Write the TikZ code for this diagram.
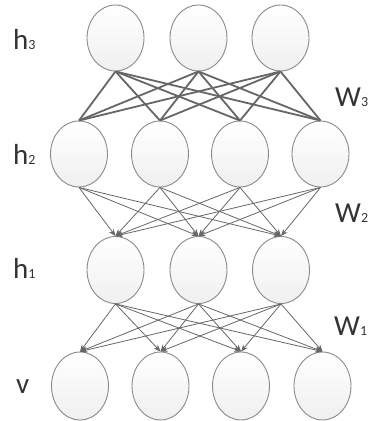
\documentclass[tikz,border=0pt]{standalone}
\usepackage{fontspec}
\setmainfont{Carlito}
\usetikzlibrary{shapes.geometric,arrows.meta}
\definecolor{edgegray}{HTML}{8A8A8A}
\definecolor{linegray}{HTML}{666666}
\definecolor{txtgray}{HTML}{333333}
\newcommand{\subsc}[1]{{\fontsize{14}{14}\selectfont #1}}
\tikzset{
  unit/.style={ellipse, draw=edgegray, line width=0.9pt, top color=white, bottom color=gray!12,
    minimum width=57pt, minimum height=66pt, inner sep=0pt},
  lab/.style={anchor=base west, inner sep=0pt, text=txtgray, font=\fontsize{29}{32}\selectfont},
  thick link/.style={draw=linegray, line width=1.8pt},
  arr link/.style={draw=linegray, line width=0.8pt, -{Stealth[length=7pt,width=5.5pt]}}
}
\begin{document}
\begin{tikzpicture}[x=1pt,y=-1pt]
\useasboundingbox (0,0) rectangle (368,421);
% layers
\foreach \i/\x in {1/115.5,2/198.5,3/280.5} \node[unit] (a\i) at (\x,38) {};
\foreach \i/\x in {1/79,2/160,3/240,4/320.5} \node[unit] (b\i) at (\x,154) {};
\foreach \i/\x in {1/115.5,2/198.5,3/281} \node[unit, minimum height=67pt] (c\i) at (\x,270) {};
\foreach \i/\x in {1/80,2/160.5,3/241,4/322.5} \node[unit, minimum height=68pt] (d\i) at (\x,386) {};
% connections
\foreach \i in {1,2,3} \foreach \j in {1,2,3,4}
  \draw[thick link] (a\i.south) -- (b\j.north);
\foreach \i in {1,2,3,4} \foreach \j in {1,2,3}
  \draw[arr link] (b\i.south) -- (c\j.north);
\foreach \i in {1,2,3} \foreach \j in {1,2,3,4}
  \draw[arr link] (c\i.south) -- (d\j.north);
% labels
\node[lab] (lh3) at (13,49) {h\subsc{3}};
\node[lab] (lh2) at (13,164) {h\subsc{2}};
\node[lab] (lh1) at (13,278) {h\subsc{1}};
\node[lab] (lv) at (16,393) {v};
\node[lab] (lw3) at (335,106) {W\subsc{3}};
\node[lab] (lw2) at (335,222) {W\subsc{2}};
\node[lab] (lw1) at (334,335) {W\subsc{1}};
\end{tikzpicture}
\end{document}
